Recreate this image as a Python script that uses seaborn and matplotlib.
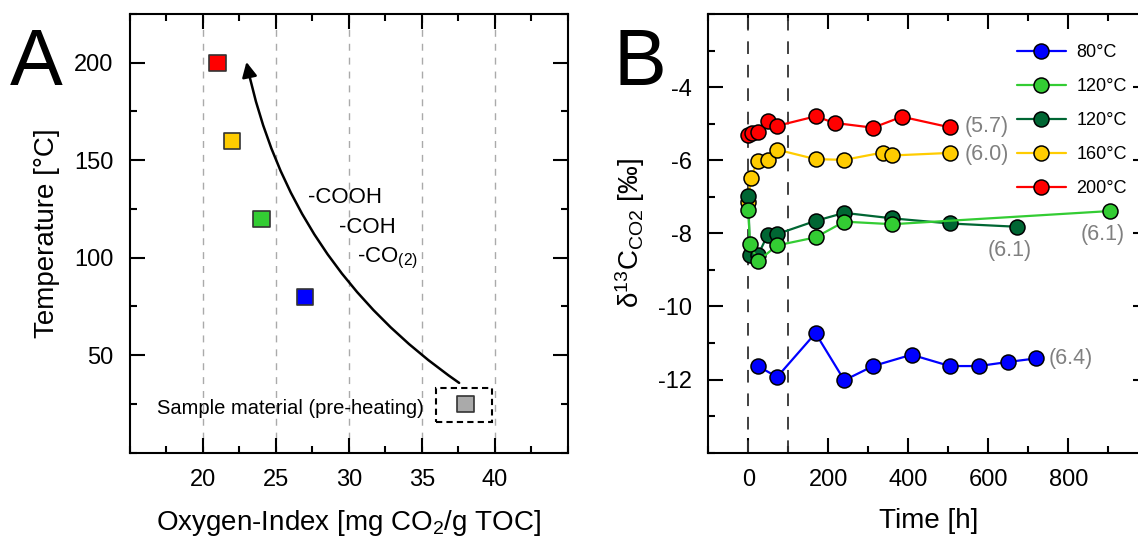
import numpy as np
import pandas as pd
import matplotlib
matplotlib.use("Agg")
import matplotlib.pyplot as plt
import seaborn as sns
from matplotlib.patches import FancyArrowPatch, Rectangle
from matplotlib.ticker import MultipleLocator

# ---- Panel A: oxygen index of the material after heating ----
oi_samples = ["Sample", "80°C", "120°C", "160°C", "200°C"]
oxygen_index = [38.0, 27.0, 24.0, 22.0, 21.0]
temperature = [25, 80, 120, 160, 200]
oi_colors = ["#aaaaaa", "#0000ff", "#33cc33", "#ffcc00", "#ff0000"]

# ---- Panel B: d13C of released CO2 over time ----
series_ids = ["80", "120a", "120b", "160", "200"]
series_labels = ["80°C", "120°C", "120°C", "160°C", "200°C"]
series_colors = ["#0000ff", "#33cc33", "#006633", "#ffcc00", "#ff0000"]

t_80 = [24, 72, 168, 240, 312, 408, 504, 576, 648, 720]
d13c_80 = [-11.63, -11.93, -10.73, -12.02, -11.63, -11.32, -11.63, -11.63, -11.52, -11.42]
t_120a = [0, 4, 24, 72, 168, 240, 360, 904]
d13c_120a = [-7.36, -8.28, -8.76, -8.33, -8.11, -7.68, -7.75, -7.39]
t_120b = [0, 4, 24, 48, 72, 168, 240, 360, 504, 672]
d13c_120b = [-6.98, -8.60, -8.60, -8.05, -8.02, -7.66, -7.44, -7.59, -7.73, -7.82]
t_160 = [0, 6, 24, 48, 72, 168, 240, 336, 360, 504]
d13c_160 = [-7.13, -6.49, -6.01, -6.00, -5.71, -5.97, -5.99, -5.79, -5.87, -5.80]
t_200 = [0, 8, 24, 48, 72, 168, 216, 312, 384, 504]
d13c_200 = [-5.30, -5.26, -5.24, -4.93, -5.06, -4.80, -4.98, -5.11, -4.81, -5.10]

# bracketed values written next to the series ends
note_text = ["(6.4)", "(6.1)", "(6.1)", "(6.0)", "(5.7)"]
note_t = [752, 887, 654, 540, 540]
note_v = [-11.42, -8.03, -8.46, -5.83, -5.07]
note_ha = ["left", "center", "center", "left", "left"]

sns.set_style("ticks")
plt.rcParams["font.family"] = ["Liberation Sans", "DejaVu Sans"]
plt.rcParams["axes.linewidth"] = 1.5
plt.rcParams["axes.edgecolor"] = "black"
plt.rcParams["axes.labelcolor"] = "black"
plt.rcParams["text.color"] = "black"
plt.rcParams["xtick.color"] = "black"
plt.rcParams["ytick.color"] = "black"
plt.rcParams["axes.unicode_minus"] = False

df_a = pd.DataFrame({"sample": oi_samples, "oi": oxygen_index, "temp": temperature})

times = [t_80, t_120a, t_120b, t_160, t_200]
vals = [d13c_80, d13c_120a, d13c_120b, d13c_160, d13c_200]
df_b = pd.concat(
    [pd.DataFrame({"series": sid, "t": t, "d13c": v}) for sid, t, v in zip(series_ids, times, vals)],
    ignore_index=True,
)

fig = plt.figure(figsize=(11.38, 5.40), dpi=100)
ax_a = fig.add_axes([130 / 1138, 1 - 452.7 / 540, 437.7 / 1138, 438.7 / 540])
ax_b = fig.add_axes([708.3 / 1138, 1 - 452.7 / 540, 440.0 / 1138, 438.7 / 540])

tick_kw = dict(direction="in", top=True, right=True, width=1.5, labelsize=17, pad=12, colors="black")

# ---- Panel A ----
ax_a.grid(axis="x", color="#aaaaaa", lw=1.0, ls=(0, (5, 5)))
sns.scatterplot(data=df_a, x="oi", y="temp", hue="sample", palette=dict(zip(oi_samples, oi_colors)),
                marker="s", s=140, edgecolor="#333333", linewidth=1.2, legend=False, zorder=3, ax=ax_a)
ax_a.set_xlim(15, 45)
ax_a.set_ylim(0, 225)
ax_a.set_xticks([20, 25, 30, 35, 40])
ax_a.set_yticks([50, 100, 150, 200])
ax_a.xaxis.set_minor_locator(MultipleLocator(2.5))
ax_a.yaxis.set_minor_locator(MultipleLocator(25))
ax_a.tick_params(which="major", length=10.5, **tick_kw)
ax_a.tick_params(which="minor", length=5.3, direction="in", top=True, right=True, width=1.5)
ax_a.set_xlabel("Oxygen-Index [mg CO$\\mathregular{_2}$/g TOC]", fontsize=20, labelpad=12)
ax_a.set_ylabel("Temperature [°C]", fontsize=20, labelpad=10)

arrow = FancyArrowPatch((37.56, 35.8), (22.98, 200.4), connectionstyle="arc3,rad=-0.2",
                        arrowstyle="-|>,head_length=0.9,head_width=0.45", mutation_scale=10,
                        lw=1.8, color="black", shrinkA=0, shrinkB=0, zorder=4)
ax_a.add_patch(arrow)
ax_a.add_patch(Rectangle((36.0, 16.0), 3.8, 17.2, fill=False, ec="black", lw=1.5,
                         ls=(0, (3, 2)), zorder=4))
ax_a.text(35.1, 22.8, "Sample material (pre-heating)", ha="right", va="center", fontsize=14.5)
ax_a.text(27.17, 130.8, "-COOH", ha="left", va="center", fontsize=16)
ax_a.text(29.3, 115.4, "-COH", ha="left", va="center", fontsize=16)
ax_a.text(30.58, 99.8, "-CO$\\mathregular{_{(2)}}$", ha="left", va="center", fontsize=16)

# ---- Panel B ----
for x0 in (0, 100):
    ax_b.axvline(x0, color="#333333", lw=1.3, ls=(0, (7, 6)), zorder=1)

draw_order = ["160", "200", "120b", "120a", "80"]
pal = dict(zip(series_ids, series_colors))
sns.lineplot(data=df_b, x="t", y="d13c", hue="series", hue_order=draw_order, palette=pal,
             units="series", estimator=None, sort=False, marker="o", markersize=10.8,
             markeredgecolor="black", markeredgewidth=1.1, lw=1.6, legend=False, ax=ax_b, zorder=3)

for txt, tx, ty, ha in zip(note_text, note_t, note_v, note_ha):
    ax_b.text(tx, ty, txt, ha=ha, va="center", fontsize=15.5, color="#808080")

ax_b.set_xlim(-100, 1000)
ax_b.set_ylim(-14, -2)
ax_b.set_xticks([0, 200, 400, 600, 800])
ax_b.set_yticks([-12, -10, -8, -6, -4])
ax_b.xaxis.set_minor_locator(MultipleLocator(100))
ax_b.yaxis.set_minor_locator(MultipleLocator(1))
ax_b.tick_params(which="major", length=10.5, **tick_kw)
ax_b.tick_params(which="minor", length=5.3, direction="in", top=True, right=True, width=1.5)
ax_b.set_xlabel("Time [h]", fontsize=20, labelpad=12)
ax_b.set_ylabel("δ$\\mathregular{^{13}}$C$\\mathregular{_{CO2}}$ [‰]", fontsize=20, labelpad=8)

line_by_id = dict(zip(draw_order, ax_b.get_lines()[2:7]))
handles = [line_by_id[s] for s in series_ids]
ax_b.legend(handles, series_labels, loc="upper left", bbox_to_anchor=(0.7016, 0.932),
            frameon=False, fontsize=13, handlelength=2.7, handletextpad=0.6,
            labelspacing=0.95, borderpad=0, borderaxespad=0)

fig.text(10 / 1138, 1 - 85 / 540, "A", fontsize=57, va="baseline", ha="left")
fig.text(613 / 1138, 1 - 85 / 540, "B", fontsize=57, va="baseline", ha="left")

fig.savefig("out.png", dpi=100)
